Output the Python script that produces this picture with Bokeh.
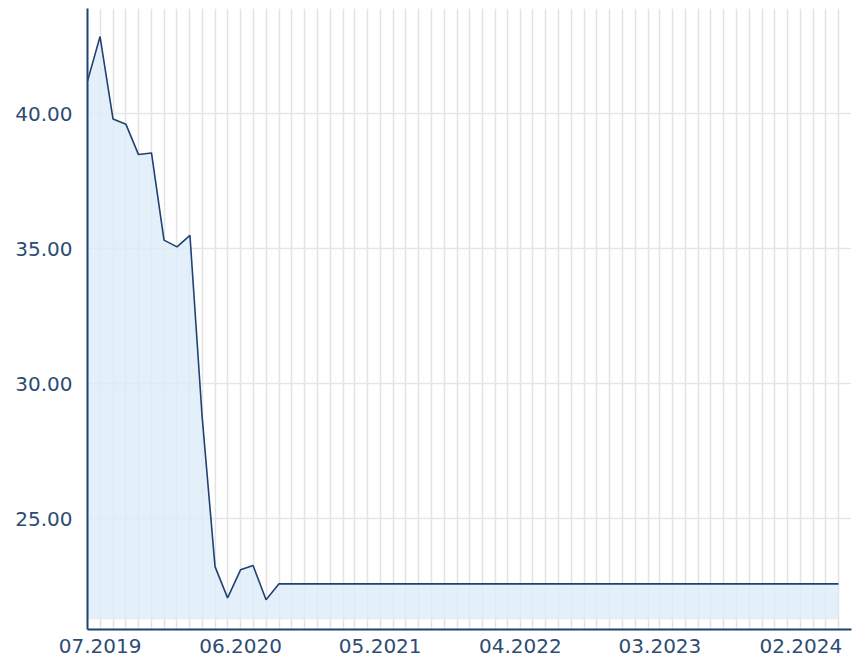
import pandas as pd
from bokeh.plotting import figure
from bokeh.models import FixedTicker, DatetimeTickFormatter, PrintfTickFormatter, Range1d
from bokeh.embed import file_html
from bokeh.resources import INLINE

# monthly values, 06.2019 .. 05.2024
start_month = "2019-06-01"
values = [41.2, 42.85, 39.8, 39.6, 38.48, 38.54, 35.31, 35.06, 35.49, 28.8,
          23.22, 22.06, 23.1, 23.26, 21.99] + [22.58] * 45
months = pd.date_range(start_month, periods=len(values), freq="MS")
x_end = pd.Timestamp("2024-06-01")
fill_base = 21.26
y_start, y_end = 20.89, 43.89
y_ticks = [25, 30, 35, 40]
x_tick_labels = ["07.2019", "06.2020", "05.2021", "04.2022", "03.2023", "02.2024"]

def ms(ts):
    return ts.timestamp() * 1000.0

x_tick_ms = [ms(pd.to_datetime("01." + s, format="%d.%m.%Y")) for s in x_tick_labels]
grid_ms = [ms(t) for t in months]

navy = "#1f4272"
text_col = "#2d4c74"

p = figure(width=853, height=661, x_axis_type="datetime",
           output_backend="svg", toolbar_location=None,
           x_range=Range1d(ms(months[0]), ms(x_end)),
           y_range=Range1d(y_start, y_end),
           min_border_left=87, min_border_right=2, min_border_top=8,
           min_border_bottom=32)
p.outline_line_color = None
p.background_fill_color = "white"

xs = [ms(t) for t in months]
area = p.varea(x=xs, y1=[fill_base] * len(xs), y2=values,
               fill_color="#dcebf8", fill_alpha=0.8)
p.line(x=xs, y=values, line_color=navy, line_width=1.6)

p.xaxis.ticker = FixedTicker(ticks=x_tick_ms)
p.xaxis.formatter = DatetimeTickFormatter(months="%m.%Y", days="%m.%Y",
                                          years="%m.%Y")
p.xgrid.ticker = FixedTicker(ticks=grid_ms)
p.xgrid.grid_line_color = "#e3e3e3"
p.xgrid.grid_line_width = 1.5

p.yaxis.ticker = FixedTicker(ticks=y_ticks)
p.yaxis.formatter = PrintfTickFormatter(format="%.2f")
p.ygrid.grid_line_color = "#e6e6e6"
p.ygrid.grid_line_width = 1.5

for ax in (p.xaxis, p.yaxis):
    ax.axis_line_color = navy
    ax.axis_line_width = 2
    ax.major_tick_line_color = None
    ax.minor_tick_line_color = None
    ax.major_tick_out = 0
    ax.major_tick_in = 0
    ax.minor_tick_out = 0
    ax.major_label_text_font = "DejaVu Sans"
    ax.major_label_text_font_size = "20px"
    ax.major_label_text_color = text_col

p.yaxis.major_label_standoff = 15
p.xaxis.major_label_standoff = 9

open("out.html", "w").write(file_html(p, INLINE))
